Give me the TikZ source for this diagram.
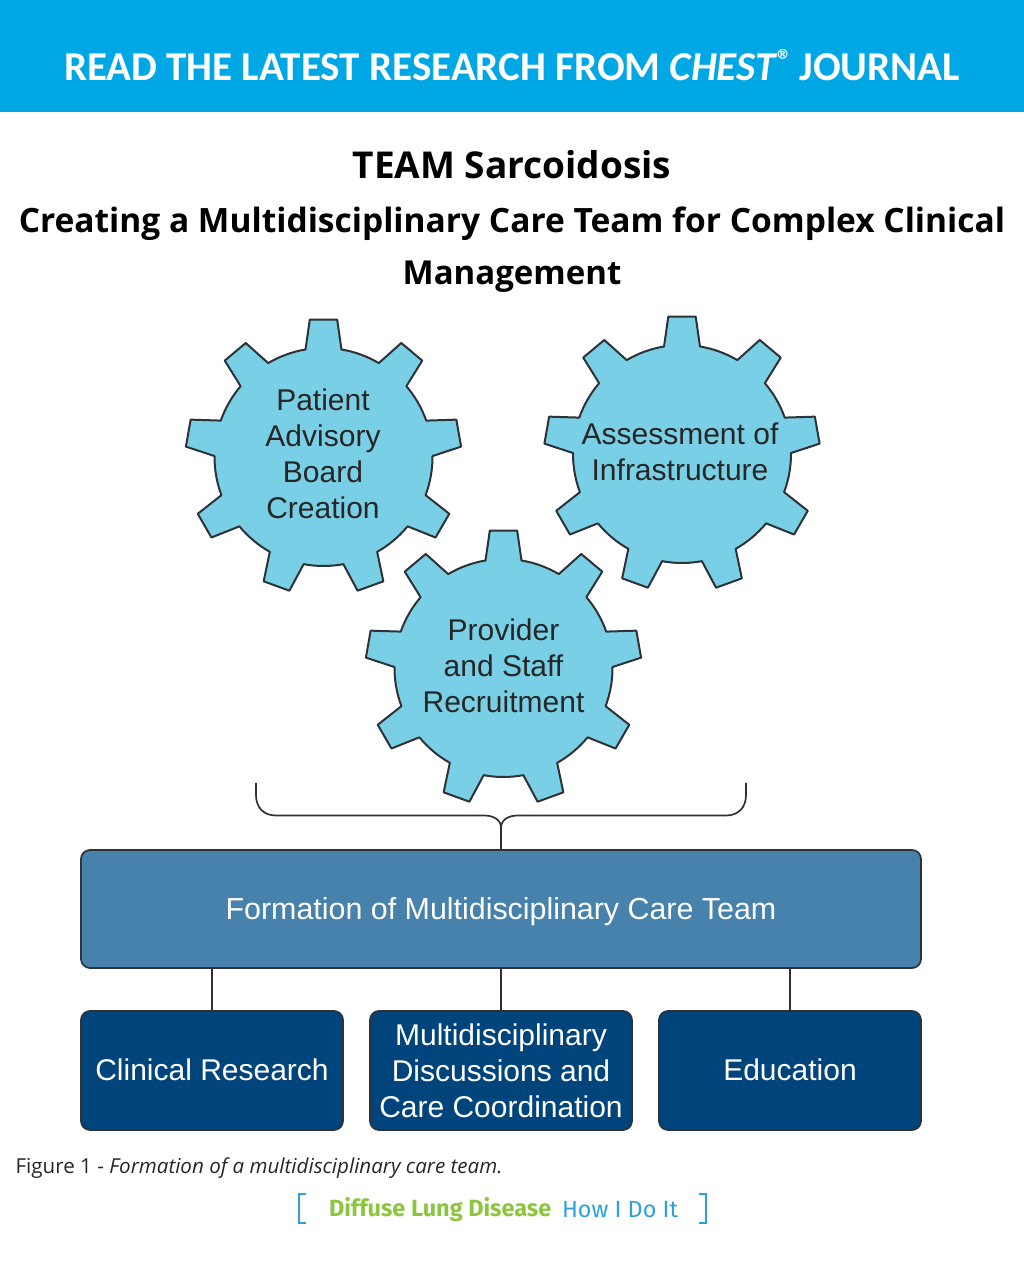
\documentclass[tikz,border=0pt]{standalone}
\usepackage{fontspec}
\setmainfont{Liberation Sans}
\newfontfamily\bannerfont{Carlito}
\newfontfamily\titlefont{Open Sans}
\newfontfamily\notefont{Open Sans}
\newfontfamily\tagfont{Fira Sans}
\usetikzlibrary{positioning}
\definecolor{Banner}{RGB}{0,167,229}
\definecolor{Gear}{RGB}{121,207,229}
\definecolor{Team}{RGB}{70,130,171}
\definecolor{Arm}{RGB}{0,68,124}
\definecolor{Edge}{RGB}{45,50,55}
\definecolor{Lime}{RGB}{140,198,63}
\definecolor{Sky}{RGB}{45,160,215}
\tikzset{
  gearline/.style={draw=Edge, line width=2pt, fill=Gear, line join=round},
  gearlabel/.style={align=center, text=black!85, font=\fontsize{30}{36}\selectfont},
  teambox/.style={draw=Edge, line width=1.7pt, fill=Team, rounded corners=9pt, minimum width=840pt, minimum height=118pt, text=white, font=\fontsize{30.4}{36}\selectfont},
  armbox/.style={draw=Edge, line width=1.7pt, fill=Arm, rounded corners=9pt, minimum width=262pt, minimum height=119pt, align=center, text=white, font=\fontsize{30}{36}\selectfont},
  joinline/.style={draw=Edge, line width=1.7pt},
}
\newcommand{\cog}[1]{
  \draw[gearline, shift={(#1)}] (80.5:109)
    \foreach \a in {90,130,170,210,250,290,330,370,410} {
      -- (\a-9.5:109) -- (\a-5.7:138) -- (\a+5.7:138) -- (\a+9.5:109)
      arc[start angle=\a+9.5, end angle=\a+30.5, radius=109]
    } -- cycle;
}
\begin{document}
\begin{tikzpicture}[x=1pt, y=1pt]
  \useasboundingbox (0,0) rectangle (1024,1280);
  \fill[Banner] (0,1168) rectangle (1024,1280);
  \node[text=white, font=\bannerfont\bfseries\fontsize{41}{46}\selectfont] (banner) at (512,1214.5) {READ THE LATEST RESEARCH FROM \textit{CHEST}\raisebox{0.5ex}{\fontsize{30}{30}\selectfont\textregistered}\hspace{-2pt} JOURNAL};
  \node[font=\titlefont\bfseries\fontsize{37}{44}\selectfont] (titleA) at (512,1115) {TEAM Sarcoidosis};
  \node[font=\titlefont\bfseries\fontsize{33.5}{40}\selectfont] (titleB) at (512,1056) {Creating a Multidisciplinary Care Team for Complex Clinical};
  \node[font=\titlefont\bfseries\fontsize{33}{40}\selectfont] (titleC) at (512,1003) {Management};
  % gears
  \cog{323.5,823}
  \cog{682,826}
  \cog{503.5,612}
  \node[gearlabel] (patient) at (323,826) {Patient\\Advisory\\Board\\Creation};
  \node[gearlabel] (infra) at (680,828) {Assessment of\\Infrastructure};
  \node[gearlabel] (staff) at (503.5,614) {Provider\\and Staff\\Recruitment};
  % team and arms
  \node[teambox] (team) at (501,371) {\raisebox{-10.5pt}[0pt][0pt]{Formation of Multidisciplinary Care Team}};
  \node[armbox] (research) at (212,209.5) {\raisebox{1pt}{Clinical Research}};
  \node[armbox] (discuss) at (501,209.5) {Multidisciplinary\\Discussions and\\Care Coordination};
  \node[armbox] (edu) at (790,209.5) {\raisebox{1pt}{Education}};
  \draw[joinline] (team.south -| research.north) -- (research.north);
  \draw[joinline] (team.south) -- (discuss.north);
  \draw[joinline] (team.south -| edu.north) -- (edu.north);
  % brace
  \coordinate (braceL) at (256,497);
  \coordinate (braceR) at (746,497);
  \coordinate (braceM) at (501,452);
  \draw[joinline] (braceL) -- ++(0,-12) .. controls (256,472) and (264,464.5) .. (276,464.5) -- (484,464.5) .. controls (494,464.5) and (501,460) .. (braceM);
  \draw[joinline] (braceR) -- ++(0,-12) .. controls (746,472) and (738,464.5) .. (726,464.5) -- (518,464.5) .. controls (508,464.5) and (501,460) .. (braceM);
  \draw[joinline] (braceM) -- (team.north);
  % footer
  \node[anchor=west, text=black!85, font=\notefont\fontsize{20.6}{24}\selectfont] (note) at (12,112) {Figure 1 - \textit{Formation of a multidisciplinary care team.}};
  \node[anchor=west, text=Lime, font=\tagfont\bfseries\fontsize{23.5}{28}\selectfont] (tagA) at (325.5,70) {Diffuse Lung Disease};
  \node[anchor=west, text=Sky, font=\tagfont\fontsize{23.4}{28}\selectfont] (tagB) at (558.5,70) {How I Do It};
  \draw[Sky, line width=1.5pt] (306,86) -- (299,86) -- (299,57) -- (306,57);
  \draw[Sky, line width=1.5pt] (699,86) -- (706,86) -- (706,57) -- (699,57);
\end{tikzpicture}
\end{document}
